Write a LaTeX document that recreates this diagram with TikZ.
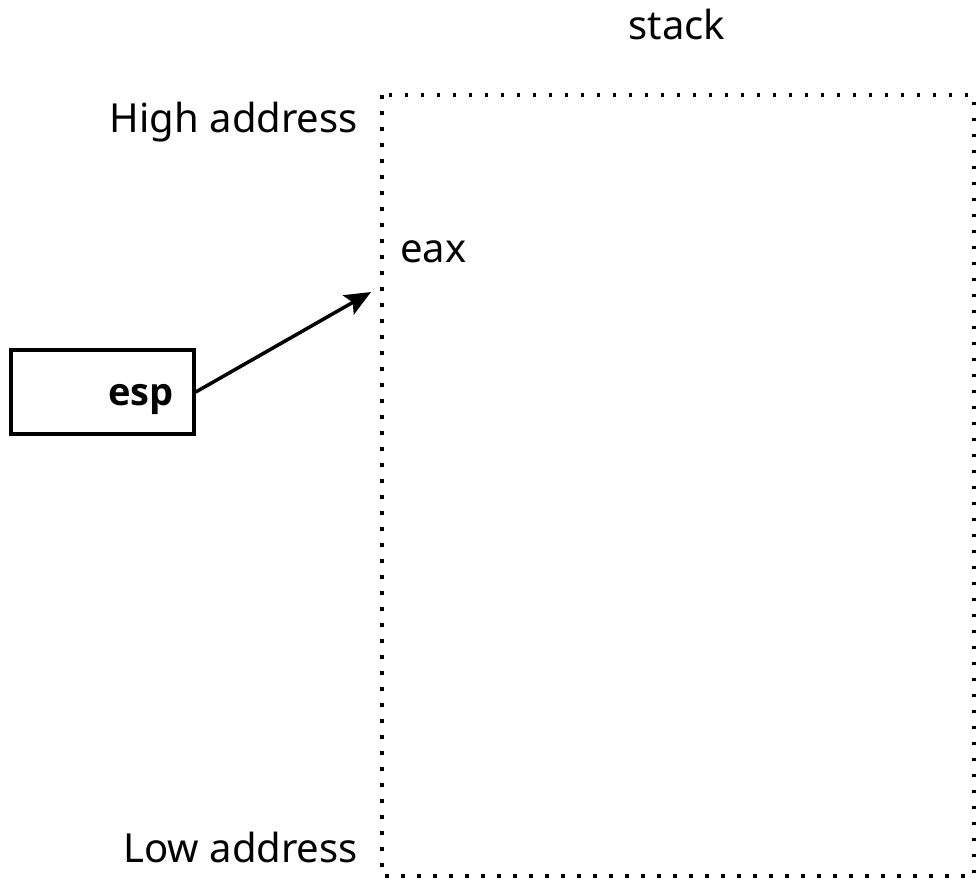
\documentclass[tikz,border=0pt]{standalone}
\usepackage{fontspec}
\setmainfont{Noto Sans}
\newfontfamily\boldsans{Open Sans}
\usetikzlibrary{arrows.meta}
\begin{document}
\begin{tikzpicture}[x=1pt,y=-1pt,
  lbl/.style={font=\fontsize{40}{48}\selectfont, inner sep=0pt},
  dotline/.style={line width=3.5pt, dash pattern=on 3.5pt off 12.5pt},
  regbox/.style={draw, line width=3.5pt, minimum width=183pt, minimum height=84pt, inner sep=0pt},
  ptr/.style={line width=3.5pt, -{Stealth[length=26pt,width=22pt,inset=5pt]}}]
\useasboundingbox (0,0) rectangle (976,879);
\coordinate (tl) at (382,95);
\coordinate (br) at (974,876);
\draw[dotline] (tl) rectangle (br);
\node[lbl] (stack) at (677,24) {stack};
\node[lbl, anchor=base east] (high) at (358,132) {High address};
\node[lbl, anchor=base east] (low) at (358,862) {Low address};
\node[lbl, anchor=base west] (eax) at (400,262) {eax};
\node[regbox] (esp) at (102.5,392) {};
\node[lbl, anchor=base east, font=\fontsize{38}{46}\boldsans\bfseries] (espt) at (174,405) {esp};
\coordinate (tip) at (371,292);
\draw[ptr] (esp.east) -- (tip);
\end{tikzpicture}
\end{document}
